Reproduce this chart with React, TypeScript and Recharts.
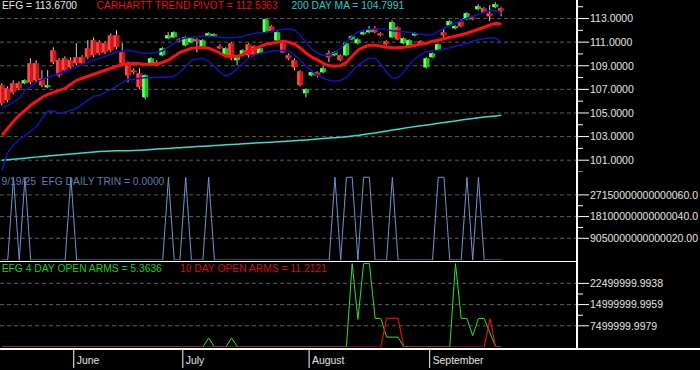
import React from 'react';
import { ComposedChart, LineChart, Line, Bar, XAxis, YAxis, CartesianGrid } from 'recharts';

const FONT = '"Liberation Sans", Arial, Helvetica, sans-serif';
const X_DOMAIN: [number, number] = [-0.35, 100.17];

// ---- price panel data (one value per trading day) ----
const opens = [
  107.35,107.09,107.52,107.52,107.52,109.21,109.21,107.94,107.18,110.31,
  109.47,109.63,109.47,109.72,109.72,110.48,111.16,110.99,110.91,111.58,
  111.58,110.14,109.21,108.62,108.36,106.33,109.21,109.30,109.89,111.33,
  111.41,111.24,110.74,110.99,111.24,110.57,111.50,111.58,110.65,109.89,
  110.91,109.47,109.89,110.82,110.65,110.06,111.84,112.35,111.16,110.91,
  109.89,109.47,108.53,106.67,108.19,108.45,108.45,110.06,109.89,109.89,
  109.89,111.24,110.91,111.67,111.84,112.09,111.75,111.08,111.41,112.26,
  110.91,110.57,111.58,111.08,108.87,109.72,110.31,111.84,112.43,112.18,
  112.77,112.94,113.11,113.79,113.87,113.45,113.96,113.87,
];
const highs = [
  107.52,107.26,107.77,107.68,107.85,109.63,109.47,108.62,108.62,110.57,
  109.63,109.80,109.72,110.91,109.89,111.16,111.41,111.16,111.08,111.75,
  112.01,110.91,109.38,108.79,108.79,108.28,109.72,109.47,110.57,111.84,
  111.92,111.33,111.50,111.41,111.33,111.24,111.84,111.75,110.82,110.57,
  110.99,109.89,110.40,110.91,110.74,110.57,113.02,112.43,111.92,110.99,
  110.06,109.63,108.62,107.09,108.53,108.53,108.96,110.31,110.23,109.97,
  110.99,111.58,111.33,111.92,112.35,112.35,111.84,111.16,112.86,112.35,
  111.41,111.24,111.84,111.16,109.72,110.14,110.91,112.18,112.86,112.43,
  112.94,113.53,113.19,114.21,113.96,114.13,114.38,113.96,
];
const lows = [
  105.65,105.91,106.58,106.92,107.43,107.43,107.60,107.18,107.09,109.13,
  108.02,108.45,108.70,109.04,109.04,109.55,109.72,109.89,109.97,110.14,
  110.40,109.04,107.60,108.28,107.01,106.16,109.04,108.96,109.80,111.24,
  111.33,110.99,110.65,110.91,110.14,110.48,111.41,111.50,110.40,109.80,
  109.47,109.04,109.80,109.72,109.89,109.97,111.75,111.84,111.08,110.06,
  109.47,108.62,107.26,106.33,108.11,108.02,108.36,109.30,109.80,109.38,
  109.80,111.16,110.82,111.58,111.75,111.75,111.50,110.74,111.33,111.16,
  110.82,110.48,111.50,110.74,108.79,109.63,110.23,111.33,112.35,112.09,
  112.26,112.86,112.86,113.70,113.45,112.77,113.87,113.19,
];
const closes = [
  105.82,106.08,106.75,107.09,107.77,107.60,107.77,107.35,107.35,109.30,
  108.19,108.62,108.87,109.21,109.21,109.72,109.89,110.06,110.14,110.31,
  110.57,109.21,108.19,108.45,107.18,108.19,109.63,109.04,110.48,111.58,
  111.84,111.08,111.41,111.33,111.08,111.16,111.75,111.67,110.48,110.48,
  109.63,109.80,110.31,109.89,109.97,110.48,112.94,111.92,111.84,110.14,
  109.63,108.87,107.35,107.01,108.45,108.19,108.79,109.72,110.14,109.47,
  110.91,111.50,111.24,111.84,112.09,111.84,111.58,110.82,112.69,111.24,
  111.33,111.16,111.75,110.82,109.63,110.06,110.82,111.58,112.77,112.35,
  112.35,113.45,112.94,114.04,113.53,113.19,114.21,113.67,
];
const trendPivot = [
  103.11,103.70,104.30,104.80,105.23,105.65,105.99,106.33,106.58,106.75,
  106.92,107.09,107.43,107.77,107.94,108.11,108.28,108.45,108.62,108.79,
  108.96,109.08,109.17,109.21,109.17,109.13,109.13,109.13,109.30,109.47,
  109.80,110.14,110.31,110.48,110.52,110.57,110.48,110.31,110.06,109.80,
  109.76,109.80,109.97,110.23,110.40,110.65,110.82,110.91,110.99,111.08,
  110.99,110.82,110.48,110.06,109.72,109.47,109.21,109.00,108.96,109.00,
  109.30,109.80,110.31,110.57,110.74,110.74,110.65,110.57,110.52,110.52,
  110.57,110.65,110.74,110.82,110.91,111.08,111.16,111.29,111.41,111.50,
  111.63,111.75,111.92,112.09,112.26,112.45,112.60,112.54,
];
const upperBand = [
  105.48,105.65,105.91,106.24,106.92,107.26,107.60,107.85,108.02,108.19,
  108.36,108.53,108.70,108.87,109.13,109.30,109.47,109.63,109.80,109.97,
  110.14,110.27,110.31,110.23,110.10,110.06,110.06,110.14,110.27,110.57,
  110.91,111.20,111.37,111.41,111.46,111.50,111.50,111.46,111.41,111.37,
  111.37,111.41,111.50,111.63,111.75,111.80,111.84,111.92,112.01,112.09,
  112.13,112.01,111.58,110.99,110.40,110.06,109.89,109.89,110.14,110.48,
  110.99,111.50,111.84,112.01,112.09,112.13,112.13,112.05,111.97,111.92,
  111.88,111.84,111.75,111.67,111.58,111.63,111.92,112.18,112.39,112.60,
  112.81,113.02,113.19,113.36,113.53,113.66,113.66,113.45,
];
const lowerBand = [
  100.14,101.67,102.26,102.77,103.11,103.45,103.87,104.55,105.14,105.14,
  104.97,105.06,105.23,105.40,105.74,106.08,106.41,106.50,106.75,107.01,
  107.26,107.60,107.85,107.85,107.94,107.98,107.98,108.02,108.02,108.02,
  108.11,108.45,108.96,109.47,109.59,109.63,109.38,108.96,108.45,108.11,
  108.36,108.79,109.21,109.63,109.89,110.06,110.14,110.23,110.27,110.31,
  110.23,109.89,109.47,108.96,108.53,108.19,107.94,107.77,107.68,107.77,
  108.02,108.53,109.04,109.38,109.63,109.63,109.13,108.45,107.94,108.02,
  108.45,109.13,109.63,109.97,110.19,110.27,110.31,110.40,110.52,110.65,
  110.78,110.91,111.08,111.20,111.29,111.37,111.33,110.99,
];
const ma200 = [
  101.00,101.04,101.08,101.12,101.17,101.22,101.26,101.31,101.36,101.40,
  101.45,101.49,101.53,101.57,101.61,101.66,101.70,101.74,101.76,101.78,
  101.79,101.80,101.81,101.83,101.85,101.87,101.90,101.94,101.97,102.00,
  102.03,102.06,102.09,102.12,102.15,102.18,102.21,102.24,102.27,102.30,
  102.33,102.36,102.39,102.42,102.45,102.47,102.50,102.53,102.56,102.59,
  102.62,102.65,102.68,102.71,102.75,102.79,102.83,102.87,102.91,102.95,
  102.99,103.04,103.10,103.17,103.24,103.31,103.39,103.47,103.55,103.63,
  103.71,103.78,103.85,103.92,103.98,104.05,104.12,104.19,104.26,104.33,
  104.40,104.47,104.53,104.59,104.65,104.70,104.75,104.80,
];

// ---- TRIN panel ----
const dailyTrin = [
  0,0,3.45e16,0,3.45e16,0,0,0,0,0,
  0,0,3.45e16,0,0,0,0,0,0,0,
  0,0,0,0,0,0,0,0,0,3.45e16,
  0,0,3.45e16,0,0,0,3.45e16,0,0,0,
  0,0,0,0,0,0,0,0,0,0,
  0,0,0,0,0,0,0,0,3.45e16,0,
  3.45e16,3.45e16,0,3.45e16,3.45e16,0,0,0,3.45e16,0,
  0,0,0,0,0,0,3.45e16,3.45e16,0,0,
  0,3.45e16,0,3.45e16,0,0,0,0,
];

// ---- open arms panel ----
const openArms4 = [
  0,0,0,0,0,0,0,0,0,0,
  0,0,0,0,0,0,0,0,0,0,
  0,0,0,0,0,0,0,0,0,0,
  0,0,0,0,0,0,3.2e6,0,0,0,
  3.2e6,0,0,0,0,0,0,0,0,0,
  0,0,0,0,0,0,0,0,0,0,
  0,29.5e6,9.8e6,29.5e6,29.5e6,10.1e6,10.1e6,3.5e6,3.5e6,3.5e6,
  0,0,0,0,0,0,0,0,0,29.5e6,
  10.1e6,10.1e6,4.0e6,10.1e6,10.1e6,5.0e6,0,0,
];
const openArms10 = [
  0,0,0,0,0,0,0,0,0,0,
  0,0,0,0,0,0,0,0,0,0,
  0,0,0,0,0,0,0,0,0,0,
  0,0,0,0,0,0,0,0,0,0,
  0,0,0,0,0,0,0,0,0,0,
  0,0,0,0,0,0,0,0,0,0,
  0,0,0,0,0,0,0,10.1e6,10.1e6,10.1e6,
  0,0,0,0,0,0,0,0,0,0,
  0,0,0,0,0,10.1e6,0,0,
];

// ---- axes ----
const monthNames = ['June', 'July', 'August', 'September'];
const monthStartBars = [13, 32, 54, 75];
const priceMajorTicks = [101, 103, 105, 107, 109, 111, 113];
const priceMinorTicks = [100, 102, 104, 106, 108, 110, 112, 114];
const priceTickLabels = ['101.0000', '103.0000', '105.0000', '107.0000', '109.0000', '111.0000', '113.0000'];
const trinMajorTicks = [9.05e15, 1.81e16, 2.715e16];
const trinMinorTicks = [1.3575e16, 2.2625e16];
const trinTickLabels = ['9050000000000020.00', '18100000000000040.0', '27150000000000060.0'];
const armsMajorTicks = [7499999.9979, 14999999.9959, 22499999.9938];
const armsMinorTicks = [11249999.9969, 18749999.9948];
const armsTickLabels = ['7499999.9979', '14999999.9959', '22499999.9938'];

const rows = opens.map((open, i) => ({
  i,
  open,
  high: highs[i],
  low: lows[i],
  close: closes[i],
  range: [lows[i], highs[i]],
  pivot: trendPivot[i],
  upper: upperBand[i],
  lower: lowerBand[i],
  ma: ma200[i],
  trin: dailyTrin[i],
  arms4: openArms4[i],
  arms10: openArms10[i],
}));

const Candle = (props: any) => {
  const { x, y, width, height, payload } = props;
  if (x == null || y == null || !payload) return null;
  const cx = x + width / 2;
  const top = Math.min(y, y + height);
  const bot = Math.max(y, y + height);
  const { high, low, open, close } = payload;
  const span = high - low || 1;
  const py = (v: number) => top + ((high - v) / span) * (bot - top);
  const up = close >= open;
  const bTop = py(Math.max(open, close));
  const bBot = py(Math.min(open, close));
  const bw = 6;
  const h = Math.max(1.5, bBot - bTop);
  return (
    <g>
      <line x1={cx} x2={cx} y1={top} y2={bot} stroke="#d0d0d0" strokeWidth={1} />
      <rect x={cx - bw / 2} y={bTop} width={bw} height={h} fill={up ? '#1fbf1f' : '#c81818'} />
      <rect x={cx - bw / 2} y={bTop} width={2.5} height={h} fill={up ? '#74ff74' : '#ff4a4a'} />
    </g>
  );
};

const AxisTick = (props: any) => {
  const { x, y, payload, majors, labels } = props;
  const v = payload.value;
  const idx = majors.findIndex((m: number) => Math.abs(m - v) <= Math.abs(m) * 1e-9);
  const isMajor = idx >= 0;
  return (
    <g>
      <line x1={x} x2={x + (isMajor ? 12 : 6)} y1={y} y2={y} stroke="#ffffff" strokeWidth={1} />
      {isMajor && (
        <text x={x + 13} y={y} dy="0.36em" fill="#e4e4e4" fontSize={10.5} fontFamily={FONT}>
          {labels[idx]}
        </text>
      )}
    </g>
  );
};

const MonthTick = (props: any) => {
  const { x, y, index } = props;
  return (
    <g>
      <line x1={x} x2={x} y1={y + 2} y2={y + 24} stroke="#ffffff" strokeWidth={1} />
      <text x={x + 3} y={y + 13} dy="0.36em" fill="#e4e4e4" fontSize={10.4} fontFamily={FONT}>
        {monthNames[index]}
      </text>
    </g>
  );
};

const label = (text: string, left: number, top: number, color: string) => (
  <div
    style={{
      position: 'absolute',
      left,
      top,
      color,
      fontFamily: FONT,
      fontSize: 10.3,
      lineHeight: '12px',
      whiteSpace: 'pre',
    }}
  >
    {text}
  </div>
);

const noMargin = { top: 0, right: 0, bottom: 0, left: 0 };

export default function App() {
  return (
    <div
      style={{
        position: 'absolute',
        left: 0,
        top: 0,
        width: 700,
        height: 370,
        background: '#000',
        overflow: 'hidden',
      }}
    >
      {/* price panel */}
      <div style={{ position: 'absolute', left: 0, top: 0 }}>
        <ComposedChart width={700} height={172} data={rows} margin={noMargin}>
          <CartesianGrid vertical={false} horizontalValues={priceMajorTicks} stroke="#5a5a5a" strokeDasharray="4 3" />
          <XAxis dataKey="i" type="number" domain={X_DOMAIN} hide allowDataOverflow />
          <YAxis
            orientation="right"
            width={123}
            type="number"
            domain={[100, 114.57]}
            ticks={[...priceMinorTicks, ...priceMajorTicks]}
            interval={0}
            allowDataOverflow
            tickSize={0}
            tickMargin={0}
            tickLine={false}
            axisLine={false}
            tick={<AxisTick majors={priceMajorTicks} labels={priceTickLabels} />}
          />
          <Line dataKey="ma" type="linear" stroke="#40d8d0" strokeWidth={1.5} dot={false} activeDot={false} isAnimationActive={false} />
          <Line dataKey="upper" type="linear" stroke="#1414b8" strokeWidth={1.5} dot={false} activeDot={false} isAnimationActive={false} />
          <Line dataKey="lower" type="linear" stroke="#1414b8" strokeWidth={1.5} dot={false} activeDot={false} isAnimationActive={false} />
          <Line dataKey="pivot" type="linear" stroke="#ff1010" strokeWidth={3} dot={false} activeDot={false} isAnimationActive={false} />
          <Bar dataKey="range" barSize={6} isAnimationActive={false} shape={(p: any) => <Candle {...p} />} />
        </ComposedChart>
      </div>

      {/* TRIN panel */}
      <div style={{ position: 'absolute', left: 0, top: 172 }}>
        <LineChart width={700} height={88} data={rows} margin={noMargin}>
          <CartesianGrid vertical={false} horizontalValues={trinMajorTicks} stroke="#5a5a5a" strokeDasharray="4 3" />
          <XAxis dataKey="i" type="number" domain={X_DOMAIN} hide allowDataOverflow />
          <YAxis
            orientation="right"
            width={123}
            type="number"
            domain={[0, 3.67e16]}
            ticks={[...trinMinorTicks, ...trinMajorTicks]}
            interval={0}
            allowDataOverflow
            tickSize={0}
            tickMargin={0}
            tickLine={false}
            axisLine={false}
            tick={<AxisTick majors={trinMajorTicks} labels={trinTickLabels} />}
          />
          <Line dataKey="trin" type="linear" stroke="#7094d0" strokeWidth={1} dot={false} activeDot={false} isAnimationActive={false} />
        </LineChart>
      </div>

      {/* open arms panel */}
      <div style={{ position: 'absolute', left: 0, top: 262 }}>
        <LineChart width={700} height={106} data={rows} margin={noMargin}>
          <CartesianGrid vertical={false} horizontalValues={armsMajorTicks} stroke="#5a5a5a" strokeDasharray="4 3" />
          <XAxis
            dataKey="i"
            type="number"
            domain={X_DOMAIN}
            allowDataOverflow
            height={21}
            ticks={monthStartBars.map((b) => b - 0.5)}
            interval={0}
            tickSize={0}
            tickMargin={0}
            tickLine={false}
            axisLine={false}
            tick={<MonthTick />}
          />
          <YAxis
            orientation="right"
            width={123}
            type="number"
            domain={[0, 30.07e6]}
            ticks={[...armsMinorTicks, ...armsMajorTicks]}
            interval={0}
            allowDataOverflow
            tickSize={0}
            tickMargin={0}
            tickLine={false}
            axisLine={false}
            tick={<AxisTick majors={armsMajorTicks} labels={armsTickLabels} />}
          />
          <Line dataKey="arms4" type="linear" stroke="#30e030" strokeWidth={1} dot={false} activeDot={false} isAnimationActive={false} />
          <Line dataKey="arms10" type="linear" stroke="#e01010" strokeWidth={1.2} dot={false} activeDot={false} isAnimationActive={false} />
        </LineChart>
      </div>

      {/* frame lines */}
      <div style={{ position: 'absolute', left: 576, top: 0, width: 2, height: 350, background: '#ffffff' }} />
      <div style={{ position: 'absolute', left: 0, top: 260.5, width: 577, height: 1.6, background: '#ffffff' }} />
      <div style={{ position: 'absolute', left: 0, top: 348, width: 700, height: 2, background: '#ffffff' }} />

      {/* legends */}
      {label('EFG = 113.6700', 2, 0, '#e8e8e8')}
      {label('CARHARTT TREND PIVOT = 112.5363', 96.5, 0, '#e41414')}
      {label('200 DAY MA = 104.7991', 291.5, 0, '#2ccccc')}
      {label('9/19/25  EFG DAILY TRIN = 0.0000', 1.5, 175.7, '#5a7cb0')}
      {label('EFG 4 DAY OPEN ARMS = 5.3636', 1.7, 263, '#22cc22')}
      {label('10 DAY OPEN ARMS = 11.2121', 180, 263, '#d41010')}
    </div>
  );
}
